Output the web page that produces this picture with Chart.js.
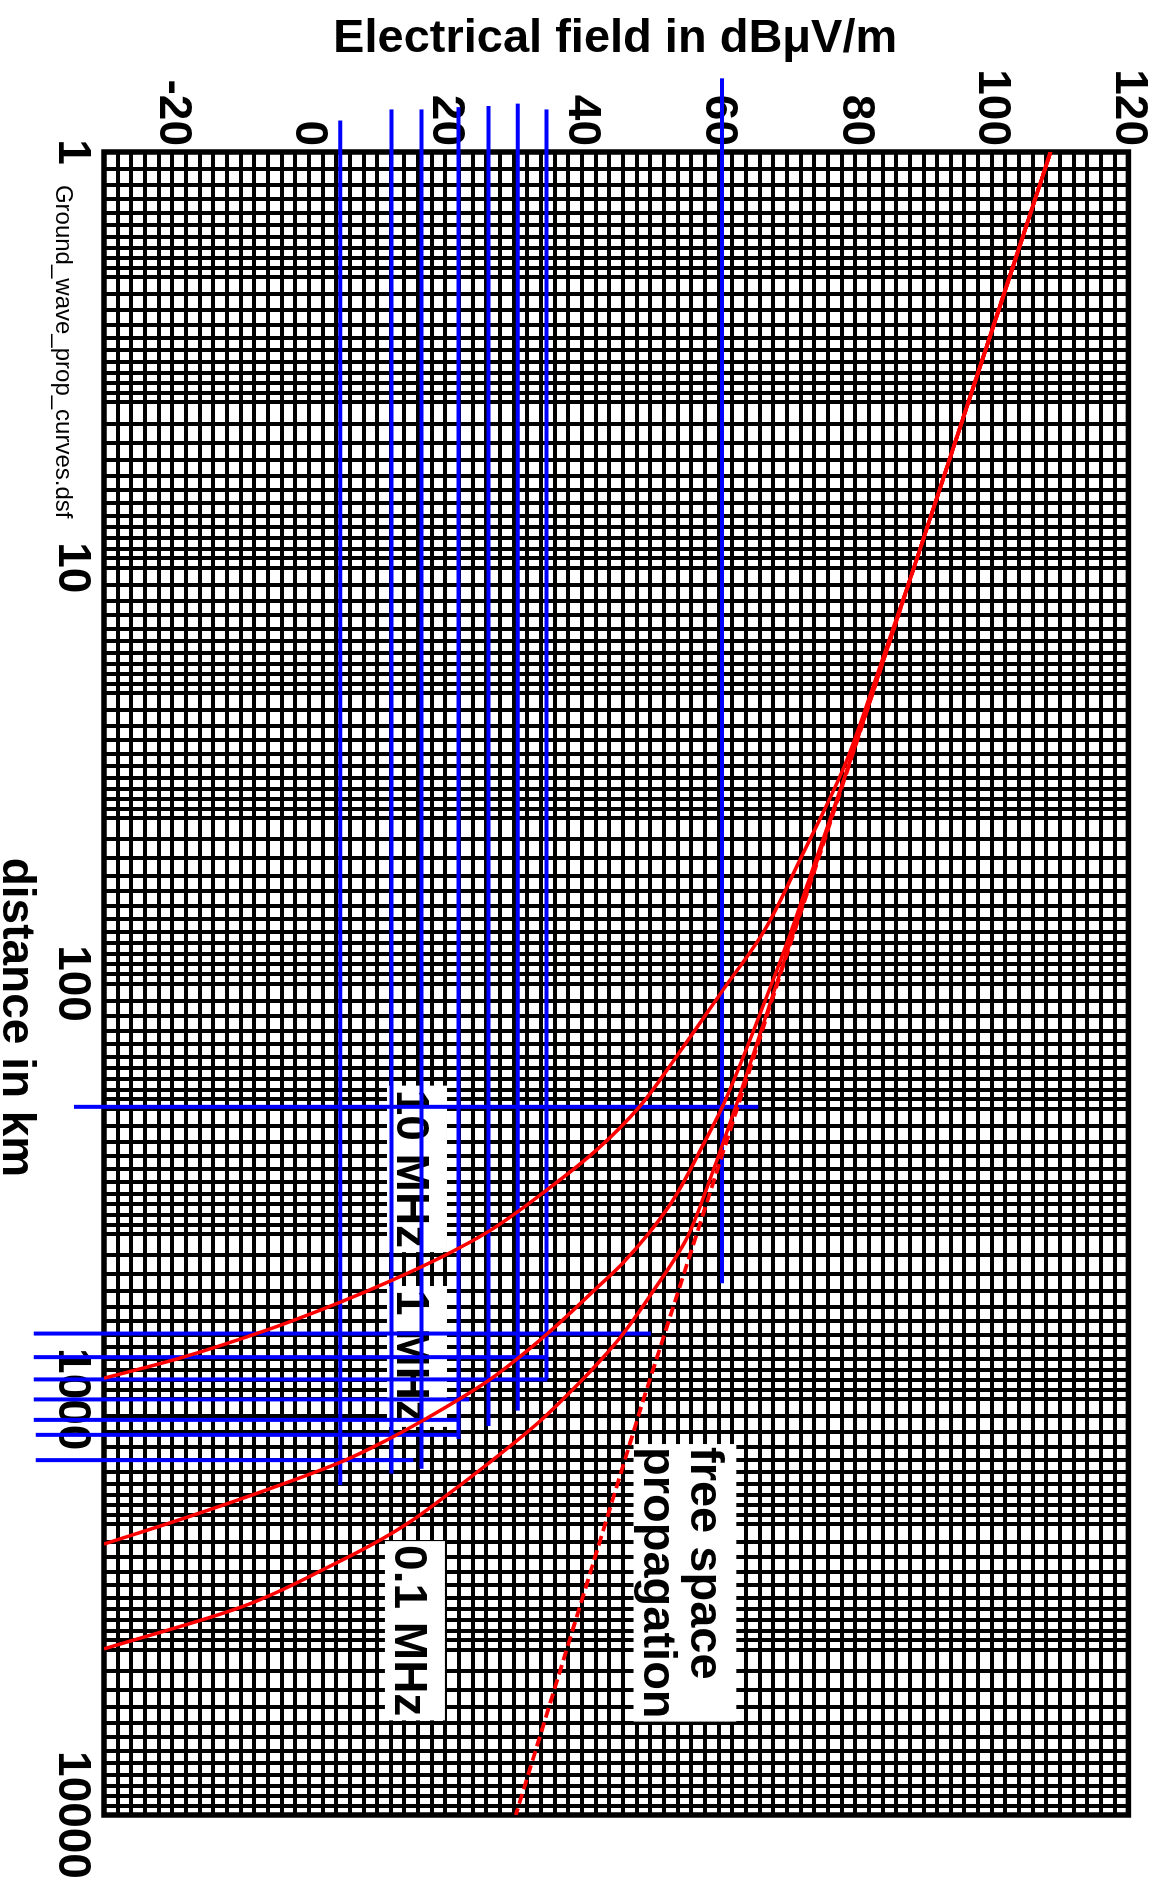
<!DOCTYPE html>
<html>
<head>
<meta charset="utf-8">
<title>Ground wave propagation curves</title>
<script src="https://cdn.jsdelivr.net/npm/chart.js@4.4.1/dist/chart.umd.min.js"></script>
<style>
  html, body { margin: 0; padding: 0; background: #ffffff; }
  body { width: 1162px; height: 1885px; overflow: hidden; position: relative; }
  #rot { position: absolute; left: 0; top: 0; width: 1885px; height: 1162px;
         transform-origin: 0 0; transform: translate(1162px, 0) rotate(90deg); }
  #chart { display: block; }
</style>
</head>
<body>
<div id="rot"><canvas id="chart" width="1885" height="1162"></canvas></div>
<script>
// ---------------- data ----------------
const distanceTickLabels = [1, 10, 100, 1000, 10000];
const fieldTickLabels = [-20, 0, 20, 40, 60, 80, 100, 120];

// log graph-paper subdivisions inside one decade
const gridMantissas = [1, 1.1, 1.2, 1.3, 1.4, 1.5, 1.6, 1.7, 1.8, 1.9,
                       2, 2.2, 2.4, 2.6, 2.8, 3, 3.2, 3.4, 3.6, 3.8,
                       4, 4.5, 5, 5.5, 6, 6.5, 7, 7.5, 8, 8.5, 9, 9.5];
const decadeStarts = [1, 10, 100, 1000];
const fieldGridStep = 2;

const freeSpaceKm = [1, 10, 100, 1000, 10000];
const freeSpaceDb = [108.6, 88.6, 68.6, 49.0, 30.3];

const curve10MHzKm = [1, 10, 20, 30, 50, 75, 105, 150, 198, 250, 315, 394, 450, 518, 585, 682, 799, 890];
const curve10MHzDb = [108.6, 88.6, 82.3, 78.4, 72.0, 66.6, 60.4, 53.8, 48.4, 42.3, 34.7, 26.4, 20.0, 12.1, 4.5, -6.2, -19.2, -30];

const curve1MHzKm = [1, 10, 30, 50, 75, 110, 202, 236, 344, 470, 537, 696, 899, 1127, 1254, 1411, 1652, 1931, 2230];
const curve1MHzDb = [108.6, 88.6, 79.0, 74.3, 70.6, 66.8, 60.3, 58.2, 52.7, 46.0, 42.3, 34.9, 26.4, 16.6, 11.4, 4.9, -6.2, -18.2, -30];

const curve01MHzKm = [1, 10, 100, 200, 300, 414, 556, 696, 813, 899, 1142, 1426, 1750, 1972, 2183, 2496, 3147, 3985];
const curve01MHzDb = [108.6, 88.6, 68.5, 62.4, 58.6, 55.2, 50.2, 46.0, 42.5, 40.0, 33.5, 26.3, 19.2, 14.8, 10.4, 3.6, -9.6, -30];

// blue reference lines: constant field value
const fieldMarkerDb     = [4.6, 12.1, 16.5, 21.9, 26.3, 30.6, 34.8, 60.5];
const fieldMarkerFromKm = [0.84, 0.79, 0.79, 0.78, 0.775, 0.765, 0.79, 0.665];
const fieldMarkerToKm   = [1608, 1510, 1470, 1246, 1160, 1065, 895, 526];
// blue reference lines: constant distance
const distMarkerKm     = [198, 695, 792, 896, 1001, 1121, 1218, 1401];
const distMarkerFromDb = [-34.4, -40.3, -40.3, -40.3, -40.3, -40.3, -40.0, -40.0];
const distMarkerToDb   = [65.8, 50.1, 34.9, 34.9, 23.5, 21.9, 21.9, 15.3];

// text labels (anchored in data coordinates: start of text, baseline)
const curveLabelText = ['10 MHz', '1 MHz', '0.1 MHz'];
const curveLabelKm   = [180, 546, 2243];
const curveLabelDb   = [12.9, 12.9, 12.6];
const freeSpaceLabelLines = ['free space', 'propagation'];
const freeSpaceLabelKm = 1303;
const freeSpaceLabelDb = [56.0, 49.0];
const fileLabelText = 'Ground_wave_prop_curves.dsf';
const fileLabelKm = 1.2;
const fileLabelDb = -37.0;

const xTitle = 'distance in km';
const yTitle = 'Electrical field in dB\u03BCV/m';

// ---------------- build ----------------
const FONT = '"Liberation Sans", Arial, Helvetica, sans-serif';
const distanceGrid = [];
decadeStarts.forEach(b => gridMantissas.forEach(m => distanceGrid.push(Math.round(m * b * 1000) / 1000)));
distanceGrid.push(10000);
const fieldGrid = [];
for (let v = -30; v <= 120; v += fieldGridStep) fieldGrid.push(v);

const pts = (xs, ys) => xs.map((x, i) => ({x, y: ys[i]}));
const RED = '#ff0000', BLUE = '#0000ff';

const datasets = [
  {data: pts(curve10MHzKm, curve10MHzDb), borderColor: RED, borderWidth: 3.5, cubicInterpolationMode: 'monotone', order: 0},
  {data: pts(curve1MHzKm, curve1MHzDb), borderColor: RED, borderWidth: 3.5, cubicInterpolationMode: 'monotone', order: 0},
  {data: pts(curve01MHzKm, curve01MHzDb), borderColor: RED, borderWidth: 3.5, cubicInterpolationMode: 'monotone', order: 0},
  {data: pts(freeSpaceKm, freeSpaceDb), borderColor: RED, borderWidth: 3.8, borderDash: [10, 5], order: 0}
];
fieldMarkerDb.forEach((e, i) => datasets.push({
  data: [{x: fieldMarkerFromKm[i], y: e}, {x: fieldMarkerToKm[i], y: e}],
  borderColor: BLUE, borderWidth: 4, clip: false, order: 1
}));
distMarkerKm.forEach((d, i) => datasets.push({
  data: [{x: d, y: distMarkerFromDb[i]}, {x: d, y: distMarkerToDb[i]}],
  borderColor: BLUE, borderWidth: 4, clip: false, order: 1
}));

const annotations = {
  id: 'annotations',
  beforeDatasetsDraw(chart) {
    const {ctx, chartArea: a, scales: {x, y}} = chart;
    ctx.save();
    // frame
    ctx.strokeStyle = '#000';
    ctx.lineWidth = 5.5;
    ctx.strokeRect(a.left, a.top, a.right - a.left, a.bottom - a.top);
    // curve labels with white boxes
    ctx.font = 'bold 46px ' + FONT;
    ctx.textAlign = 'left';
    ctx.textBaseline = 'alphabetic';
    curveLabelText.forEach((t, i) => {
      const px = x.getPixelForValue(curveLabelKm[i]);
      const py = y.getPixelForValue(curveLabelDb[i]);
      const w = ctx.measureText(t).width;
      ctx.fillStyle = '#fff';
      ctx.fillRect(px - 4, py - 50, w + 8, 60);
      ctx.fillStyle = '#000';
      ctx.fillText(t, px, py);
    });
    ctx.font = 'bold 47px ' + FONT;
    const fx = x.getPixelForValue(freeSpaceLabelKm);
    const fy = freeSpaceLabelDb.map(v => y.getPixelForValue(v));
    const fw = Math.max(...freeSpaceLabelLines.map(t => ctx.measureText(t).width));
    ctx.fillStyle = '#fff';
    ctx.fillRect(fx - 3, fy[0] - 45, fw + 6, fy[1] - fy[0] + 55);
    ctx.fillStyle = '#000';
    freeSpaceLabelLines.forEach((t, i) => ctx.fillText(t, fx, fy[i]));
    ctx.restore();
  },
  afterDraw(chart) {
    const {ctx, chartArea: a, scales: {x, y}} = chart;
    ctx.save();
    ctx.fillStyle = '#000';
    // file name
    ctx.font = '24px ' + FONT;
    ctx.textAlign = 'left';
    ctx.textBaseline = 'alphabetic';
    ctx.fillText(fileLabelText, x.getPixelForValue(fileLabelKm), y.getPixelForValue(fileLabelDb));
    // x title
    ctx.font = 'bold 46px ' + FONT;
    ctx.textAlign = 'center';
    ctx.fillText(xTitle, (a.left + a.right) / 2 + 34, chart.height - 3);
    // y title (rotated)
    ctx.font = 'bold 47px ' + FONT;
    ctx.translate(52, (a.top + a.bottom) / 2 + 1);
    ctx.rotate(-Math.PI / 2);
    ctx.fillText(yTitle, 0, 0);
    ctx.restore();
  }
};

new Chart(document.getElementById('chart'), {
  type: 'line',
  data: {datasets},
  options: {
    responsive: false,
    animation: false,
    devicePixelRatio: 1,
    events: [],
    layout: {padding: {left: 0, top: 27, right: 70, bottom: 0}},
    plugins: {legend: {display: false}, tooltip: {enabled: false}, title: {display: false}},
    elements: {point: {radius: 0, hoverRadius: 0}, line: {tension: 0, borderCapStyle: 'butt', fill: false}},
    scales: {
      x: {
        type: 'logarithmic', min: 1, max: 10000,
        afterBuildTicks: s => { s.ticks = distanceGrid.map(v => ({value: v})); },
        afterFit: s => { s.height = 104; },
        grid: {color: '#000', lineWidth: 4, drawTicks: false},
        border: {display: false},
        ticks: {
          autoSkip: false, maxRotation: 0, minRotation: 0, padding: 5, color: '#000',
          font: {family: FONT, size: 46, weight: 'bold'},
          callback: v => distanceTickLabels.includes(v) ? String(v) : ''
        }
      },
      y: {
        type: 'linear', min: -30, max: 120,
        afterBuildTicks: s => { s.ticks = fieldGrid.map(v => ({value: v})); },
        afterFit: s => { s.width = 152; },
        grid: {color: '#000', lineWidth: 4, drawTicks: false},
        border: {display: false},
        ticks: {
          autoSkip: false, padding: 6, color: '#000',
          font: {family: FONT, size: 46, weight: 'bold'},
          callback: v => fieldTickLabels.includes(v) ? String(v) : ''
        }
      }
    }
  },
  plugins: [annotations]
});
</script>
</body>
</html>
